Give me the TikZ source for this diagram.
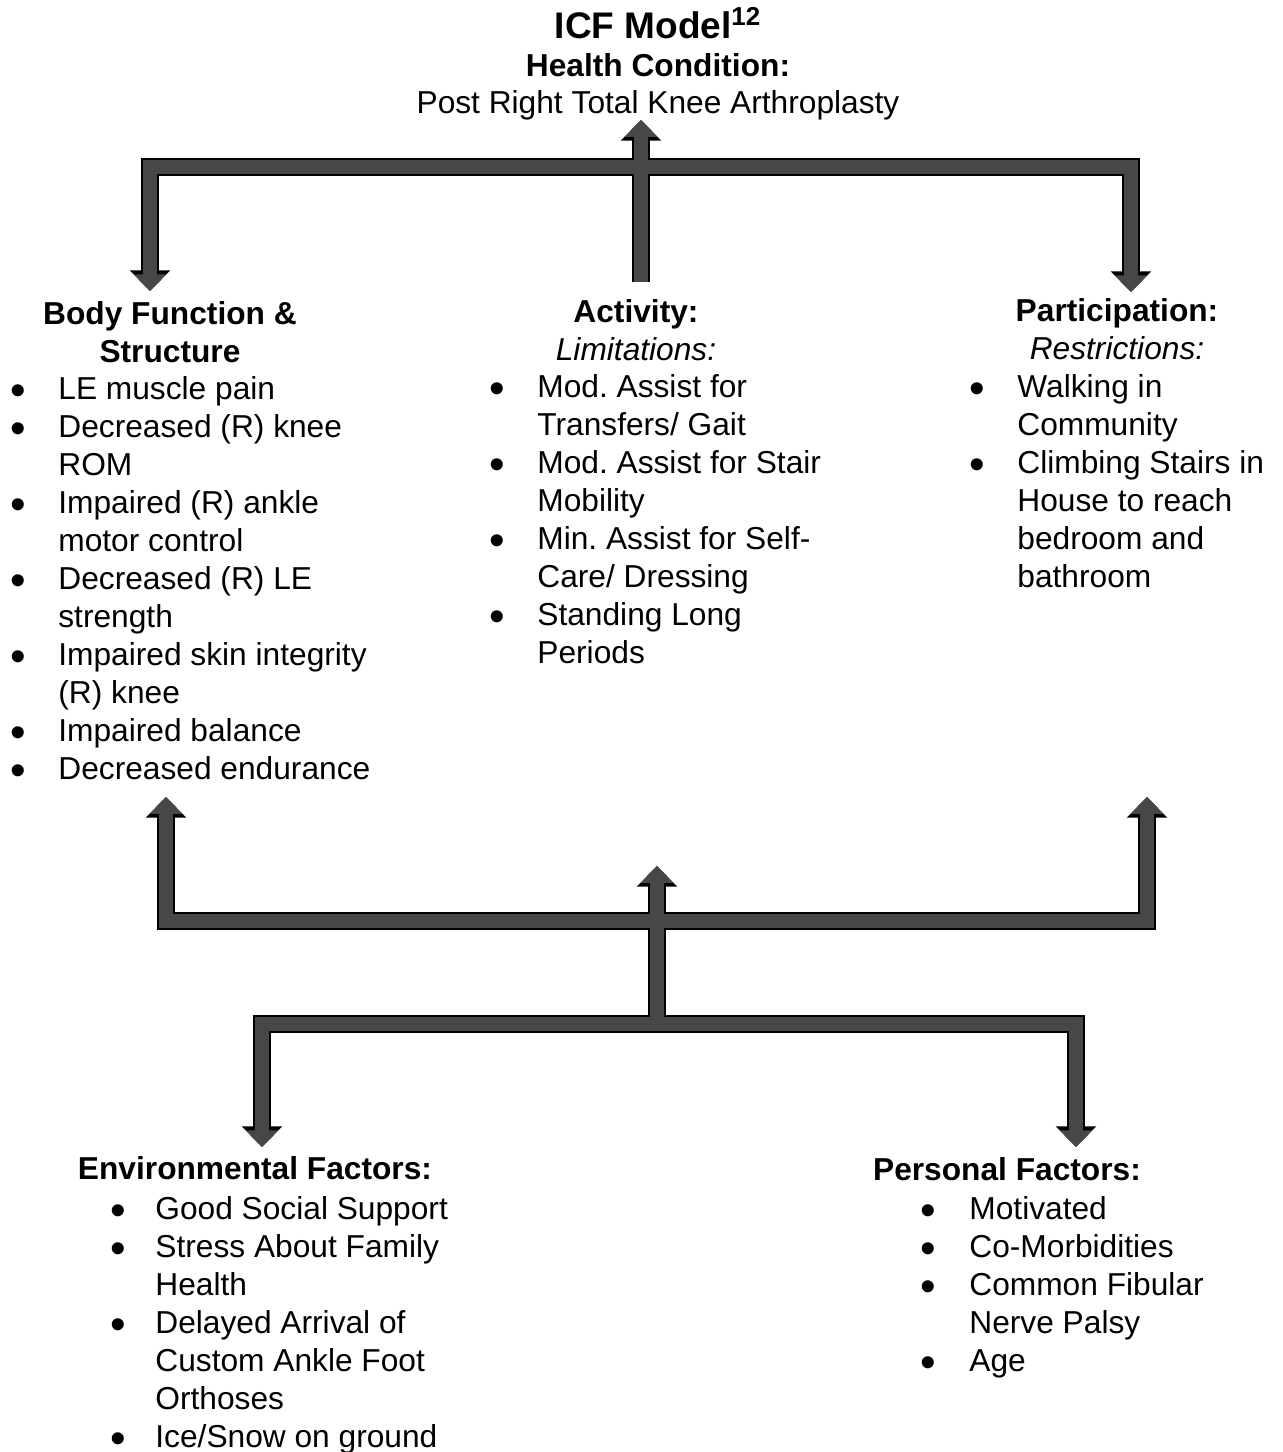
\documentclass[tikz,border=0pt]{standalone}
\usepackage{fontspec}
\setmainfont{Liberation Sans}
\usetikzlibrary{arrows.meta}
\definecolor{barfill}{gray}{0.28}
\newcommand{\txt}{\fontsize{15.85}{19}\selectfont\frenchspacing}
\newcommand{\bul}{\raisebox{-3.2pt}{\scalebox{1.4}{\textbullet}}}

\begin{document}
\begin{tikzpicture}[x=0.5pt, y=-0.5pt,
    every node/.style={inner sep=0pt, font=\txt},
    head/.style={anchor=base, font=\txt\bfseries},
    list/.style={anchor=base west},
    >={Triangle[width=0pt 2.24,length=0pt 1.18]}]
  \useasboundingbox (0,0) rectangle (1283,1452);

  % health condition
  \node[anchor=base, font=\fontsize{18.5}{22}\selectfont\bfseries] (title) at (658,38) {ICF Model\textsuperscript{12}};
  \node[head] (hc) at (658,76) {Health Condition:};
  \node[anchor=base] (dx) at (658,113) {Post Right Total Knee Arthroplasty};

  % the three middle columns
  \node[head] (body) at (170,324) {\begin{tabular}[t]{@{}c@{}}Body Function \&\\Structure\end{tabular}};
  \node[head] (act) at (636,322) {\begin{tabular}[t]{@{}c@{}}Activity:\\\mdseries\itshape Limitations:\end{tabular}};
  \node[head] (part) at (1117,321) {\begin{tabular}[t]{@{}c@{}}Participation:\\\mdseries\itshape Restrictions:\end{tabular}};

  \node[list] (bodyL) at (10.5,399) {\begin{tabular}[t]{@{}p{23.75pt}@{}l@{}}
    \bul & LE muscle pain\\
    \bul & Decreased (R) knee\\
         & ROM\\
    \bul & Impaired (R) ankle\\
         & motor control\\
    \bul & Decreased (R) LE\\
         & strength\\
    \bul & Impaired skin integrity\\
         & (R) knee\\
    \bul & Impaired balance\\
    \bul & Decreased endurance
  \end{tabular}};
  \node[list] (actL) at (489.5,397) {\begin{tabular}[t]{@{}p{23.75pt}@{}l@{}}
    \bul & Mod. Assist for\\
         & Transfers/ Gait\\
    \bul & Mod. Assist for Stair\\
         & Mobility\\
    \bul & Min. Assist for Self-\\
         & Care/ Dressing\\
    \bul & Standing Long\\
         & Periods
  \end{tabular}};
  \node[list] (partL) at (969.5,397) {\begin{tabular}[t]{@{}p{23.75pt}@{}l@{}}
    \bul & Walking in\\
         & Community\\
    \bul & Climbing Stairs in\\
         & House to reach\\
         & bedroom and\\
         & bathroom
  \end{tabular}};

  % contextual factors
  \node[head] (env) at (255,1179) {Environmental Factors:};
  \node[head] (pers) at (1007,1180) {Personal Factors:};
  \node[list] (envL) at (110.5,1219) {\begin{tabular}[t]{@{}p{22.25pt}@{}l@{}}
    \bul & Good Social Support\\
    \bul & Stress About Family\\
         & Health\\
    \bul & Delayed Arrival of\\
         & Custom Ankle Foot\\
         & Orthoses\\
    \bul & Ice/Snow on ground
  \end{tabular}};
  \node[list] (persL) at (920.5,1219) {\begin{tabular}[t]{@{}p{24.25pt}@{}l@{}}
    \bul & Motivated\\
    \bul & Co-Morbidities\\
    \bul & Common Fibular\\
         & Nerve Palsy\\
    \bul & Age
  \end{tabular}};

  % arrow corners and tips
  \coordinate (bodyTip) at (150,291);
  \coordinate (topL) at (150,167);
  \coordinate (topR) at (1131,167);
  \coordinate (partTip) at (1131,292);
  \coordinate (actFoot) at (641,282);
  \coordinate (hcTip) at (641,120);
  \coordinate (bodyUp) at (166,797);
  \coordinate (midL) at (166,921);
  \coordinate (midR) at (1147,921);
  \coordinate (partUp) at (1147,797);
  \coordinate (hubFoot) at (657,1024);
  \coordinate (hubTip) at (657,866);
  \coordinate (envTip) at (262,1147);
  \coordinate (lowL) at (262,1024);
  \coordinate (lowR) at (1076,1024);
  \coordinate (persTip) at (1076,1147);

  % black outline first, grey body on top
  \foreach \lw/\col in {8.7pt/black, 7.1pt/barfill} {
    \draw[line width=\lw, \col, <->] (bodyTip) -- (topL) -- (topR) -- (partTip);
    \draw[line width=\lw, \col, ->] (actFoot) -- (hcTip);
    \draw[line width=\lw, \col, <->] (bodyUp) -- (midL) -- (midR) -- (partUp);
    \draw[line width=\lw, \col, ->] (hubFoot) -- (hubTip);
    \draw[line width=\lw, \col, <->] (envTip) -- (lowL) -- (lowR) -- (persTip);
  }
\end{tikzpicture}
\end{document}
